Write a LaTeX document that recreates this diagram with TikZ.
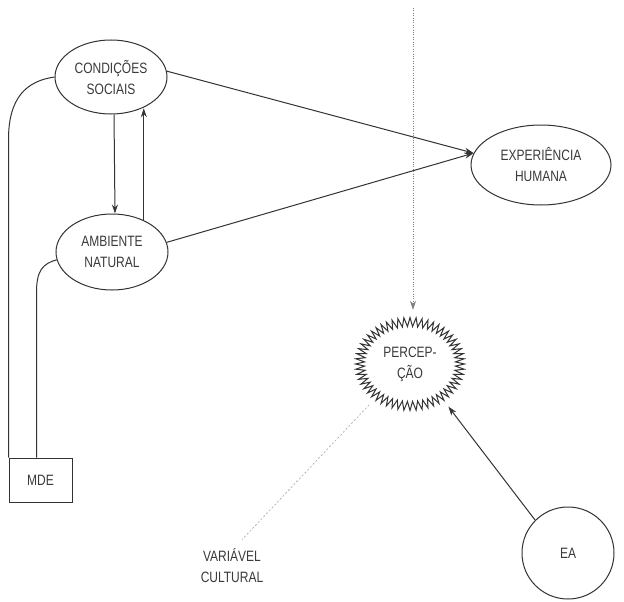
\documentclass[tikz,border=0pt]{standalone}
\usepackage{fontspec}
\setmainfont{Liberation Sans}[FakeStretch=0.8]
\usetikzlibrary{arrows.meta,shapes.geometric,calc}
\definecolor{ink}{HTML}{333333}
\definecolor{txt}{HTML}{3A3A3A}
\begin{document}
\begin{tikzpicture}[x=1pt,y=-1pt,
  every node/.style={text=txt, font=\fontsize{15}{21}\selectfont, align=center, inner sep=0pt},
  link/.style={draw=ink, line width=1pt},
  tip/.style={-{Stealth[length=9pt,width=6pt]}},
  oval/.style={ellipse, draw=ink, line width=1pt},
  faint/.style={draw=gray!70, line width=0.6pt, dash pattern=on 2pt off 2pt},
  dots/.style={draw=gray, line width=0.7pt, dash pattern=on 0.8pt off 1.6pt},
]
\useasboundingbox (0,0) rectangle (624,602);
\fill[white] (0,0) rectangle (624,602);

% nodes
\node[oval, minimum width=112, minimum height=74] (cond) at (111,77) {CONDIÇÕES\\SOCIAIS};
\node[oval, minimum width=112, minimum height=76] (amb) at (112,252) {AMBIENTE\\NATURAL};
\node[oval, minimum width=140, minimum height=80] (exp) at (541,165) {EXPERIÊNCIA\\HUMANA};
\node[ellipse, minimum width=124, minimum height=108] (perc) at (410,364) {PERCEP-\\ÇÃO};
\node[circle, draw=ink, line width=1pt, minimum size=92] (ea) at (568,553) {EA};
\node[draw=ink, line width=1pt, minimum width=63, minimum height=44] (mde) at (40.5,480) {MDE};
\node (var) at (232,566) {VARIÁVEL\\CULTURAL};
\coordinate (top) at (413,8);

% zigzag outline of the perception burst (spikes alternate outer/inner radius)
\draw[link, line join=miter]
  plot[domain=0:111, samples=112, variable=\k]
  ({410+(50+4.5*(1-2*mod(\k,2)))*cos(3.2143*\k)}, {364+(42+4.5*(1-2*mod(\k,2)))*sin(3.2143*\k)}) -- cycle;

% connectors
\draw[link, tip] (cond.6) -- (exp.170);
\draw[link, tip] (amb.10) -- (exp.170);
\draw[link, tip] ([xshift=3pt]cond.south) -- ([xshift=3pt]amb.north);
\draw[link, tip] (amb.45) -- (amb.45 |- cond.-45);
\draw[link] (mde.north west) -- ++(0,-318) .. controls +(0,-42) and +(-28,4) .. (cond.west);
\draw[link] ([xshift=-4pt]mde.north) -- ++(0,-165) .. controls +(0,-22) and +(-14,4) .. (amb.188);
\draw[dots, tip] (top) -- (top |- perc.north);
\draw[link, tip] (ea.135) -- (perc.-48);
\draw[faint] (perc.-135) -- ([xshift=10pt,yshift=9pt]var.north);
\end{tikzpicture}
\end{document}
